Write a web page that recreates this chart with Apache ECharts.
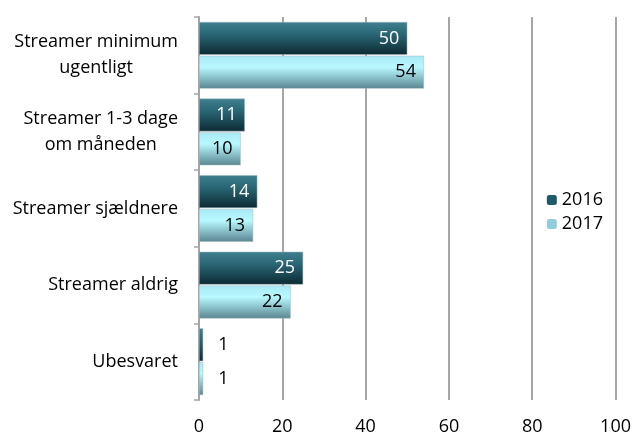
<!DOCTYPE html>
<html><head><meta charset="utf-8">
<script src="https://cdn.jsdelivr.net/npm/echarts@6/dist/echarts.min.js"></script>
<style>html,body{margin:0;padding:0;background:#fff}#c{width:634px;height:437px}</style>
</head><body><div id="c"></div>
<script>
const categories = ["Streamer minimum\nugentligt", "Streamer 1-3 dage\nom måneden", "Streamer sjældnere", "Streamer aldrig", "Ubesvaret"];
const values2016 = [50, 11, 14, 25, 1];
const values2017 = [54, 10, 13, 22, 1];
const seriesNames = ["2016", "2017"];
const xTicks = [0, 20, 40, 60, 80, 100];

const FONT = 'Open Sans';
const FS = 18;
function grad(top, mid, bot) {
  return new echarts.graphic.LinearGradient(0, 0, 0, 1, [
    {offset: 0, color: top}, {offset: 0.35, color: mid}, {offset: 1, color: bot}
  ]);
}
function mkData(vals, insideColor) {
  return vals.map(v => ({
    value: v,
    label: v < 5 ? {position: 'right', color: '#000', distance: 15} : {position: 'insideRight', color: insideColor, distance: 8}
  }));
}
const chart = echarts.init(document.getElementById('c'));
chart.setOption({
  animation: false,
  textStyle: {fontFamily: FONT},
  legend: {
    orient: 'vertical', right: 26, top: 186, itemWidth: 10, itemHeight: 10, itemGap: 6,
    textStyle: {fontSize: FS, color: '#000', fontFamily: FONT},
    data: [
      {name: '2016', itemStyle: {color: '#215968', borderWidth: 0}},
      {name: '2017', itemStyle: {color: '#93CDDD', borderWidth: 0}}
    ]
  },
  grid: {left: 199, right: 14, top: 17, bottom: 37, containLabel: false},
  xAxis: {
    type: 'value', min: 0, max: 100, interval: 20,
    axisLine: {show: false}, axisTick: {show: false},
    axisLabel: {fontSize: FS, color: '#000', margin: 18, fontFamily: FONT},
    splitLine: {lineStyle: {color: '#a6a6a6', width: 2}}
  },
  yAxis: {
    type: 'category', data: categories, inverse: true,
    axisLine: {lineStyle: {color: '#a6a6a6', width: 2}},
    axisTick: {show: true, length: 5, lineStyle: {color: '#a6a6a6', width: 1.5}},
    axisLabel: {
      color: '#000', margin: 21, align: 'right',
      formatter: v => v.split('\n').map(s => '{c|' + s + '}').join('\n'),
      rich: {c: {align: 'center', fontSize: FS, lineHeight: 26, fontFamily: FONT, color: '#000'}}
    }
  },
  series: [
    {
      name: seriesNames[0], type: 'bar', data: mkData(values2016, '#fff'),
      barGap: '3%', barCategoryGap: '13%',
      itemStyle: {color: grad('#3f7f8f', '#2b6877', '#0c2a33'), borderColor: '#9fb9bf', borderWidth: 0.5},
      label: {show: true, fontSize: FS, fontFamily: FONT}
    },
    {
      name: seriesNames[1], type: 'bar', data: mkData(values2017, '#000'),
      barGap: '3%', barCategoryGap: '13%',
      itemStyle: {color: grad('#a9e9f5', '#b8f8ff', '#5a8690'), borderColor: '#9fb9bf', borderWidth: 0.5},
      label: {show: true, fontSize: FS, fontFamily: FONT}
    }
  ]
});
</script></body></html>
